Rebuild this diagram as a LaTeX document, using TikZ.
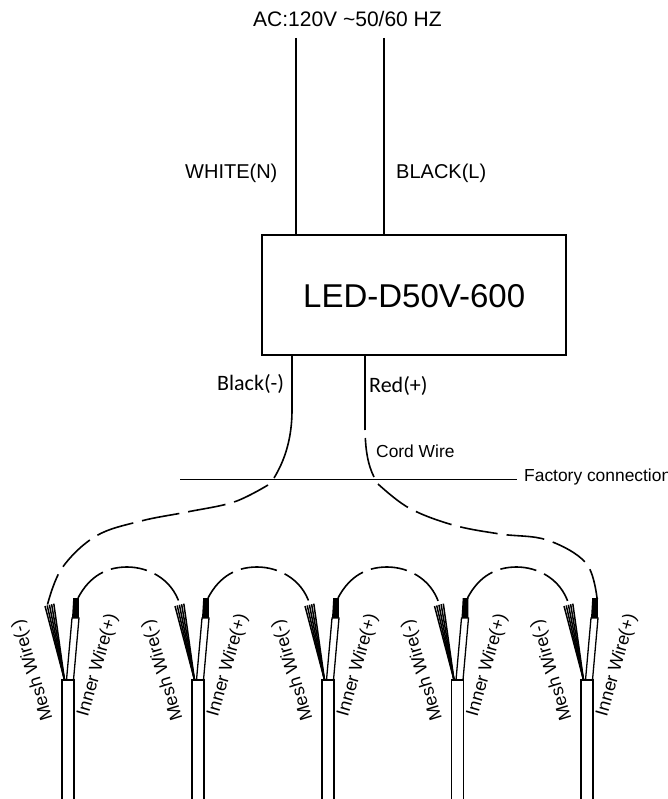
\documentclass[tikz,border=0pt]{standalone}
\usepackage{fontspec}
\usetikzlibrary{calc}
\setmainfont{Liberation Sans}
\newfontfamily\calib{Carlito}
\tikzset{
  wire/.style={line width=1.6pt,line cap=butt},
  dashwire/.style={line width=1.6pt,dash pattern=on 38pt off 9pt},
  arcwire/.style={line width=1.6pt,dash pattern=on 36.5pt off 8.5pt},
  lbl/.style={inner sep=0pt,anchor=west,text=black},
  wirelbl/.style={inner sep=0pt,font=\fontsize{18}{20}\selectfont,text=black},
  boxst/.style={draw,line width=1.7pt,inner sep=0pt,minimum width=304pt,minimum height=120pt},
}
\begin{document}
\begin{tikzpicture}[x=1pt,y=-1pt]
\useasboundingbox (0,0) rectangle (667,799);
\clip (0,0) rectangle (667,799);
\node[boxst] (drv) at (414,295) {};
\node[lbl,font=\fontsize{33}{35}\selectfont] (drvt) at (303,296) {LED-D50V-600};
\node[lbl,font=\fontsize{21}{23}\selectfont] (ac) at (253,19) {AC:120V \char`\~50/60 HZ};
\node[lbl,font=\fontsize{20}{22}\selectfont] (wn) at (185,173) {WHITE(N)};
\node[lbl,font=\fontsize{20}{22}\selectfont] (bl) at (396,173) {BLACK(L)};
\node[lbl,font=\calib\fontsize{22}{24}\selectfont] (blk) at (217,384) {Black(-)};
\node[lbl,font=\calib\fontsize{22}{24}\selectfont] (red) at (369,386) {Red(+)};
\node[lbl,font=\fontsize{17.4}{19}\selectfont] (cord) at (376,451) {Cord Wire};
\node[lbl,font=\fontsize{17.4}{19}\selectfont] (fac) at (524,477) {Factory connection};
\coordinate (acL) at (296,38);
\coordinate (acR) at (384,38);
\coordinate (dcL) at (292,355);
\coordinate (dcR) at (365,355);
\coordinate (facL) at (180,479.5);
\coordinate (facR) at (517,479.5);
\draw[wire] (acL) -- (acL |- drv.north);
\draw[wire] (acR) -- (acR |- drv.north);
\draw[wire] (facL) -- (facR);
\foreach \i/\dx in {1/0,2/130,3/260,4/389.5,5/519}{
  \coordinate (mesh\i) at (\dx+47.5,604.5);
  \coordinate (inner\i) at (\dx+78,598);
  \coordinate (base\i) at (\dx+64.5,680);
  \foreach \tx/\ty in {45/606,47.2/605.4,49.4/604.8,51.6/604.2,53.8/603.6}
    \draw[line width=1.5pt] (base\i) -- (\dx+\tx,\ty);
  \fill (\dx+73.2,598) -- (\dx+79,598) -- (\dx+78.8,618) -- (\dx+72,618) -- cycle;
  \draw[line width=1.3pt,fill=white] (\dx+66.5,680) -- (\dx+72,618) -- (\dx+79,618) -- (\dx+73.5,680);
  \draw[line width=1.7pt,fill=white] (\dx+62,801) -- (\dx+62,680) -- (\dx+74,680) -- (\dx+74,801);
  \node[wirelbl,rotate=107] (ml\i) at (\dx+33,670) {Mesh Wire(-)};
  \node[wirelbl,rotate=74] (il\i) at (\dx+98,665) {Inner Wire(+)};
}
% cord wires
\draw[wire] (dcL) -- (292,410) .. controls (292,438) and (285,460) .. (274,478);
\draw[wire,dash pattern=on 75pt off 8pt] (dcR) -- (365,425) .. controls (365,450) and (368,465) .. (374,477);
\draw[dashwire] plot[smooth,tension=.6] coordinates {(268,485) (234,502) (187,512) (141,521) (96,536) (62,568) (mesh1)};
\draw[dashwire] plot[smooth,tension=.6] coordinates {(378,484) (409,508) (453,525) (500,534) (547,540) (586,563) (inner5)};
\foreach \a/\b in {1/2,2/3,3/4,4/5}{
  \draw[arcwire] (inner\a) .. controls +(12,-23) and +(-19,0) .. ($(inner\a)+(49,-31)$) .. controls +(21,0) and +(-8,-25) .. ($(mesh\b)+(2,-1)$);
}
\end{tikzpicture}
\end{document}
